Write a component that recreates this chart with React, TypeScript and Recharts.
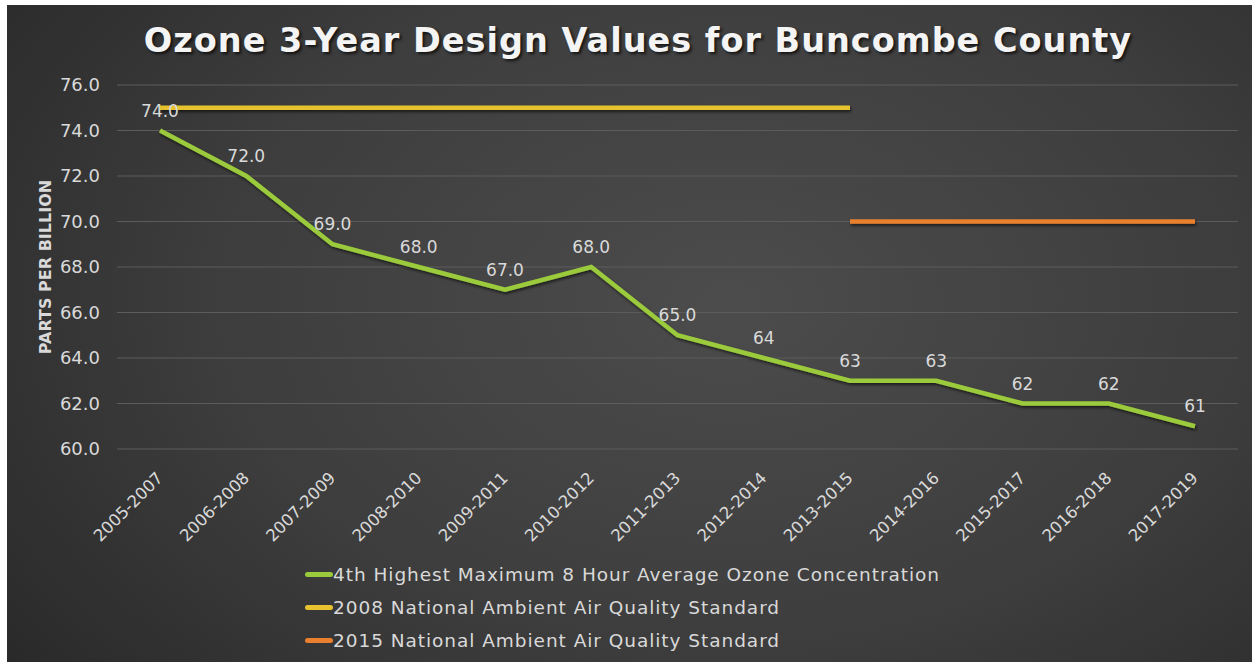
import React from 'react';
import { LineChart, Line, XAxis, YAxis, CartesianGrid, Legend, LabelList } from 'recharts';

const periods = [
  '2005-2007', '2006-2008', '2007-2009', '2008-2010', '2009-2011', '2010-2012', '2011-2013',
  '2012-2014', '2013-2015', '2014-2016', '2015-2017', '2016-2018', '2017-2019',
];
const ozoneValues = [74, 72, 69, 68, 67, 68, 65, 64, 63, 63, 62, 62, 61];
const ozoneLabels = ['74.0', '72.0', '69.0', '68.0', '67.0', '68.0', '65.0', '64', '63', '63', '62', '62', '61'];
const std2008 = [75, 75, 75, 75, 75, 75, 75, 75, 75, null, null, null, null];
const std2015 = [null, null, null, null, null, null, null, null, 70, 70, 70, 70, 70];
const yTicks = [60, 62, 64, 66, 68, 70, 72, 74, 76];

const seriesNames = [
  '4th Highest Maximum 8 Hour Average Ozone Concentration',
  '2008 National Ambient Air Quality Standard',
  '2015 National Ambient Air Quality Standard',
];
const seriesColors = ['#9bcb3c', '#e6c32f', '#e8802f'];

const data = periods.map((p, i) => ({
  period: p,
  ozone: ozoneValues[i],
  label: ozoneLabels[i],
  std2008: std2008[i],
  std2015: std2015[i],
}));

const FONT = '"DejaVu Sans", sans-serif';
const TEXT = '#d9d9d9';

function XTick({ x, y, payload }: any) {
  return (
    <g transform={`translate(${x + 4},${y + 30}) rotate(-45)`}>
      <text x={0} y={0} textAnchor="end" fill={TEXT} fontSize={16.5} fontFamily={FONT}>
        {payload.value}
      </text>
    </g>
  );
}

function YLabel({ viewBox }: any) {
  const cx = viewBox.x + 38;
  const cy = viewBox.y + viewBox.height / 2;
  return (
    <text
      transform={`translate(${cx},${cy}) rotate(-90)`}
      textAnchor="middle"
      dominantBaseline="central"
      fill={TEXT}
      fontSize={16}
      fontWeight="bold"
      fontFamily={FONT}
    >
      PARTS PER BILLION
    </text>
  );
}

const renderLegend = () => (
  <div style={{ height: 112, paddingTop: 8, boxSizing: 'border-box', fontFamily: FONT }}>
    {seriesNames.map((n, i) => (
      <div key={n} style={{ display: 'flex', alignItems: 'center', height: 33 }}>
        <span style={{ display: 'inline-block', width: 28, height: 5, borderRadius: 3, background: seriesColors[i] }} />
        <span style={{ color: TEXT, fontSize: 18.5, letterSpacing: 0.95 }}>{n}</span>
      </div>
    ))}
  </div>
);

export default function App() {
  return (
    <div style={{ position: 'absolute', left: 0, top: 0, width: 1252, height: 662, background: '#fff' }}>
      <div
        style={{
          position: 'absolute',
          left: 7,
          top: 5,
          width: 1245,
          height: 657,
          background: 'radial-gradient(ellipse 75% 95% at 58% 45%, #4c4c4c 0%, #3d3d3d 55%, #282828 100%)',
        }}
      >
        <div
          style={{
            position: 'absolute',
            left: 0,
            top: 16,
            width: 1262,
            textAlign: 'center',
            color: '#f4f4f4',
            fontFamily: FONT,
            fontWeight: 'bold',
            fontSize: 33.5,
            letterSpacing: 1,
            textShadow: '2px 2px 3px rgba(0,0,0,0.7)',
          }}
        >
          Ozone 3-Year Design Values for Buncombe County
        </div>
        <LineChart width={1245} height={657} data={data} margin={{ top: 80, right: 14, left: 0, bottom: 0 }}>
          <defs>
            <filter id="lineShadow" filterUnits="userSpaceOnUse" x={0} y={0} width={1245} height={657}>
              <feDropShadow dx="1" dy="2" stdDeviation="1.5" floodColor="#000" floodOpacity="0.6" />
            </filter>
          </defs>
          <CartesianGrid vertical={false} stroke="#5c5c5c" strokeWidth={1} />
          <XAxis
            dataKey="period"
            axisLine={false}
            tickLine={false}
            tickSize={0}
            tickMargin={0}
            interval={0}
            height={101}
            padding={{ left: 43, right: 43 }}
            tick={<XTick />}
          />
          <YAxis
            domain={[60, 76]}
            ticks={yTicks}
            width={110}
            axisLine={false}
            tickLine={false}
            tickSize={0}
            tickMargin={17}
            tickFormatter={(v: number) => v.toFixed(1)}
            tick={{ fill: TEXT, fontSize: 18, fontFamily: FONT }}
            label={<YLabel />}
          />
          <Legend verticalAlign="bottom" content={renderLegend} wrapperStyle={{ left: 298, width: 820 }} />
          <Line
            dataKey="ozone"
            name={seriesNames[0]}
            stroke={seriesColors[0]}
            strokeWidth={4.5}
            dot={false}
            filter="url(#lineShadow)"
            isAnimationActive={false}
          >
            <LabelList dataKey="label" position="top" offset={14} fill={TEXT} fontSize={17} fontFamily={FONT} />
          </Line>
          <Line
            dataKey="std2008"
            name={seriesNames[1]}
            stroke={seriesColors[1]}
            strokeWidth={4.5}
            dot={false}
            filter="url(#lineShadow)"
            isAnimationActive={false}
          />
          <Line
            dataKey="std2015"
            name={seriesNames[2]}
            stroke={seriesColors[2]}
            strokeWidth={4.5}
            dot={false}
            filter="url(#lineShadow)"
            isAnimationActive={false}
          />
        </LineChart>
      </div>
    </div>
  );
}
